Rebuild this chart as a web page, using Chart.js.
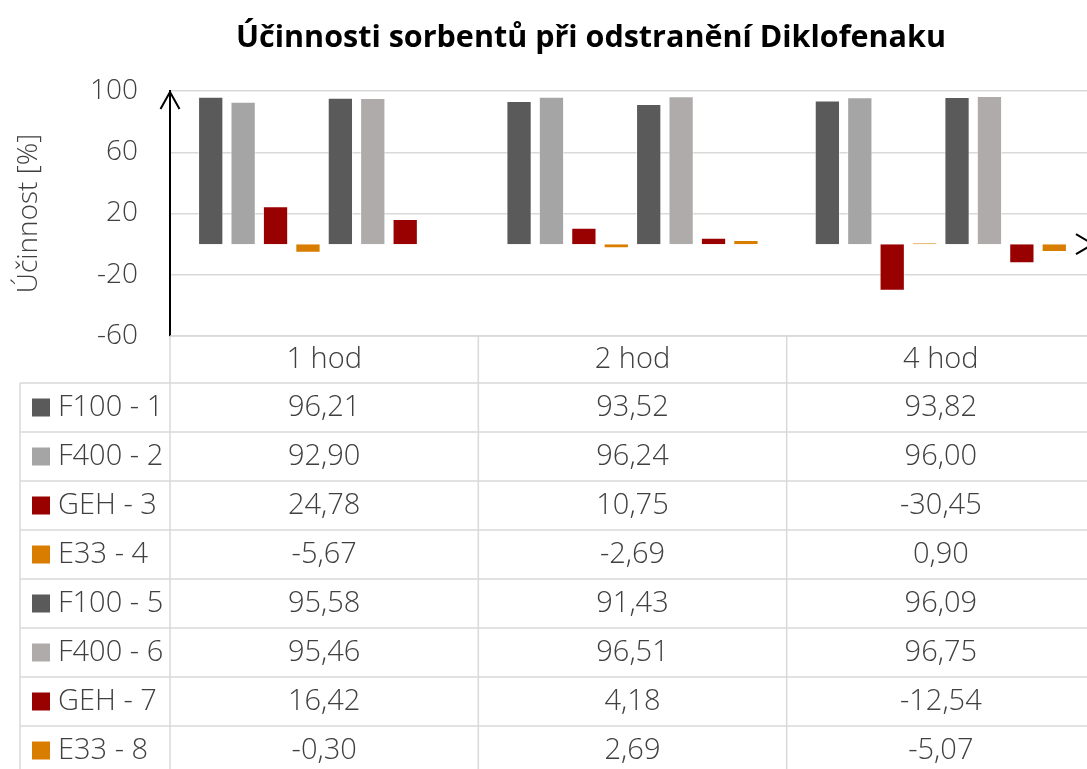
<!DOCTYPE html>
<html>
<head>
<meta charset="utf-8">
<script src="https://cdn.jsdelivr.net/npm/chart.js@4"></script>
<style>
html,body{margin:0;padding:0;background:#fff;overflow:hidden;}
#wrap{width:1100px;height:769px;}
</style>
</head>
<body>
<div id="wrap"><canvas id="c" width="1100" height="769"></canvas></div>
<script>
const categories = ['1 hod', '2 hod', '4 hod'];
const seriesNames = ['F100 - 1', 'F400 - 2', 'GEH - 3', 'E33 - 4', 'F100 - 5', 'F400 - 6', 'GEH - 7', 'E33 - 8'];
const f100_1 = [96.21, 93.52, 93.82];
const f400_2 = [92.90, 96.24, 96.00];
const geh_3  = [24.78, 10.75, -30.45];
const e33_4  = [-5.67, -2.69, 0.90];
const f100_5 = [95.58, 91.43, 96.09];
const f400_6 = [95.46, 96.51, 96.75];
const geh_7  = [16.42, 4.18, -12.54];
const e33_8  = [-0.30, 2.69, -5.07];
const yTicks = [100, 60, 20, -20, -60];
const title = 'Účinnosti sorbentů při odstranění Diklofenaku';
const yTitle = 'Účinnost [%]';

const seriesValues = [f100_1, f400_2, geh_3, e33_4, f100_5, f400_6, geh_7, e33_8];
const seriesColors = ['#5A5A5A', '#A5A5A5', '#990000', '#D97D00', '#5A5A5A', '#AFABAB', '#990000', '#D97D00'];

const FONT = "'Open Sans', 'DejaVu Sans', sans-serif";
const TXT = '#404040';
const GRID = '#D9D9D9';

const tablePlugin = {
  id: 'dataTable',
  afterDraw(chart) {
    const ctx = chart.ctx;
    const x = chart.scales.x;
    const ca = chart.chartArea;
    const top = ca.bottom;
    const headerH = 47;
    const rowH = 49;
    const leftX = 20;
    const half = (x.getPixelForValue(1) - x.getPixelForValue(0)) / 2;
    const bounds = [];
    for (let i = 0; i <= categories.length; i++) bounds.push(x.getPixelForValue(0) - half + i * 2 * half);
    const bottom = chart.height + 20;
    ctx.save();
    // title
    ctx.fillStyle = '#000';
    ctx.font = "bold 30.5px " + FONT;
    ctx.textAlign = 'center';
    ctx.textBaseline = 'middle';
    ctx.fillText(title, 591, 38);

    ctx.strokeStyle = GRID;
    ctx.lineWidth = 1.5;
    ctx.beginPath();
    bounds.forEach(b => { ctx.moveTo(b, top); ctx.lineTo(b, bottom); });
    ctx.moveTo(leftX, top + headerH); ctx.lineTo(leftX, bottom);
    ctx.moveTo(bounds[0], top); ctx.lineTo(chart.width + 10, top);
    for (let r = 0; r <= seriesNames.length; r++) {
      const y = top + headerH + r * rowH;
      ctx.moveTo(leftX, y); ctx.lineTo(chart.width + 10, y);
    }
    ctx.stroke();
    ctx.fillStyle = TXT;
    ctx.font = "300 29px " + FONT;
    ctx.textAlign = 'center';
    ctx.textBaseline = 'middle';
    categories.forEach((c, i) => ctx.fillText(c, x.getPixelForValue(i), top + headerH / 2));
    seriesNames.forEach((name, r) => {
      const cy = top + headerH + r * rowH + rowH / 2;
      ctx.fillStyle = seriesColors[r];
      ctx.fillRect(32, cy - 9, 18, 18);
      ctx.fillStyle = TXT;
      ctx.textAlign = 'left';
      ctx.fillText(name, 58, cy);
      ctx.textAlign = 'center';
      seriesValues[r].forEach((v, i) => {
        ctx.fillText(v.toFixed(2).replace('.', ','), x.getPixelForValue(i), cy);
      });
    });
    const y = chart.scales.y;
    const y0 = y.getPixelForValue(0);
    ctx.strokeStyle = '#000';
    ctx.lineWidth = 2;
    ctx.beginPath();
    ctx.moveTo(ca.left - 9.5, ca.top + 18); ctx.lineTo(ca.left, ca.top + 1); ctx.lineTo(ca.left + 9.5, ca.top + 18);
    ctx.moveTo(ca.right - 19, y0 - 10); ctx.lineTo(ca.right - 2, y0); ctx.lineTo(ca.right - 19, y0 + 10);
    ctx.stroke();
    ctx.restore();
  }
};

new Chart(document.getElementById('c'), {
  type: 'bar',
  data: {
    labels: categories,
    datasets: seriesNames.map((n, i) => ({
      label: n,
      data: seriesValues[i],
      backgroundColor: seriesColors[i],
      borderColor: 'rgba(255,255,255,0.5)',
      borderWidth: 1,
      categoryPercentage: 0.841,
      barPercentage: 0.78
    }))
  },
  options: {
    responsive: false,
    animation: false,
    layout: { padding: { left: 0, right: 5, top: 91, bottom: 433 } },
    plugins: {
      legend: { display: false },
      tooltip: { enabled: false },
      title: { display: false }
    },
    scales: {
      x: { display: false },
      y: {
        min: -60, max: 100,
        afterBuildTicks(s) { s.ticks = yTicks.map(v => ({ value: v })); },
        afterFit(s) { s.width = 170; },
        ticks: {
          color: TXT,
          font: { family: FONT, size: 28, weight: '300' },
          padding: 32
        },
        grid: {
          drawTicks: false,
          color: c => (c.tick && c.tick.value === 0) ? '#000' : GRID,
          lineWidth: c => (c.tick && c.tick.value === 0) ? 2 : 1.5
        },
        border: { display: true, color: '#000', width: 2 },
        title: {
          display: true,
          text: yTitle,
          color: TXT,
          font: { family: FONT, size: 28, weight: '300' },
          padding: { top: 12, bottom: 0 }
        }
      }
    }
  },
  plugins: [tablePlugin]
});
</script>
</body>
</html>
